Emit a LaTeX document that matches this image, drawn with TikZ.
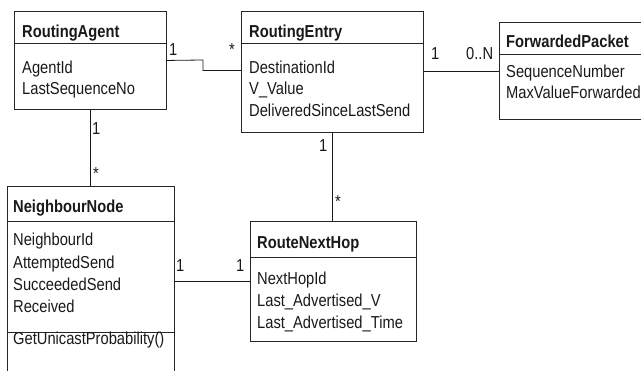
\documentclass[tikz,border=0pt]{standalone}
\usepackage{fontspec}
\setmainfont{Liberation Sans}[FakeStretch=0.85]
\begin{document}
\begin{tikzpicture}[x=1pt,y=-1pt,
  cls/.style={draw=black!85, line width=0.9pt, inner sep=0pt, anchor=north west},
  sep/.style={draw=black!85, line width=0.9pt},
  conn/.style={draw=black!90, line width=0.8pt},
  txt/.style={anchor=base west, inner sep=0pt, font=\fontsize{17.3}{20}\selectfont, text=black!90},
  hdr/.style={txt, font=\fontsize{17.3}{20}\selectfont\bfseries},
  mult/.style={txt}]
\useasboundingbox (0,0) rectangle (641,371);
% classes
\node[cls, minimum width=152pt, minimum height=98pt] (ra) at (14,11) {};
\node[cls, minimum width=182pt, minimum height=121pt] (re) at (241,11) {};
\node[cls, minimum width=160pt, minimum height=97pt] (fp) at (499,22) {};
\node[cls, minimum width=167pt, minimum height=200pt] (nn) at (7,186) {};
\node[cls, minimum width=166pt, minimum height=120pt] (rnh) at (250,221) {};
% compartments
\draw[sep] (14,43) -- (166,43);
\draw[sep] (241,43) -- (423,43);
\draw[sep] (499,54) -- (660,54);
\draw[sep] (7,221) -- (174,221);
\draw[sep] (7,332) -- (174,332);
\draw[sep] (250,257) -- (416,257);
% texts RoutingAgent
\node[hdr] (raH) at (22,37.5) {RoutingAgent};
\node[txt] (raA1) at (22,74) {AgentId};
\node[txt] (raA2) at (22,95) {LastSequenceNo};
% RoutingEntry
\node[hdr] (reH) at (249,37.5) {RoutingEntry};
\node[txt] (reA1) at (249,74) {DestinationId};
\node[txt] (reA2) at (249,95) {V\_Value};
\node[txt] (reA3) at (249,116.5) {DeliveredSinceLastSend};
% ForwardedPacket
\node[hdr] (fpH) at (506,48) {ForwardedPacket};
\node[txt] (fpA1) at (506,78) {SequenceNumber};
\node[txt] (fpA2) at (506,99) {MaxValueForwarded};
% NeighbourNode
\node[hdr] (nnH) at (13,213) {NeighbourNode};
\node[txt] (nnA1) at (13,246) {NeighbourId};
\node[txt] (nnA2) at (13,268.5) {AttemptedSend};
\node[txt] (nnA3) at (13,290.5) {SucceededSend};
\node[txt] (nnA4) at (13,312.5) {Received};
\node[txt] (nnM1) at (13,345) {GetUnicastProbability()};
% RouteNextHop
\node[hdr] (rnhH) at (257,249) {RouteNextHop};
\node[txt] (rnhA1) at (257,285) {NextHopId};
\node[txt] (rnhA2) at (257,307) {Last\_Advertised\_V};
\node[txt] (rnhA3) at (257,329) {Last\_Advertised\_Time};
% connectors
\coordinate (bend) at (203,60);
\draw[conn] (ra.east) -- (bend) |- ([yshift=1.5pt]re.west);
\draw[conn] (fp.west -| re.east) -- (fp.west);
\draw[conn] (re.south) -- (re.south |- rnh.north);
\draw[conn] (ra.south) -- (ra.south |- nn.north);
\draw[conn] (nn.east |- rnh.west) -- (rnh.west);
% multiplicities
\node[mult] (m1) at (169,56) {1};
\node[mult] (m2) at (229,56) {*};
\node[mult] (m3) at (431,60) {1};
\node[mult] (m4) at (466,60) {0..N};
\node[mult] (m5) at (92,135) {1};
\node[mult] (m6) at (93,180) {*};
\node[mult] (m7) at (319,152) {1};
\node[mult] (m8) at (335,208) {*};
\node[mult] (m9) at (176,272) {1};
\node[mult] (m10) at (236,272) {1};
\end{tikzpicture}
\end{document}
